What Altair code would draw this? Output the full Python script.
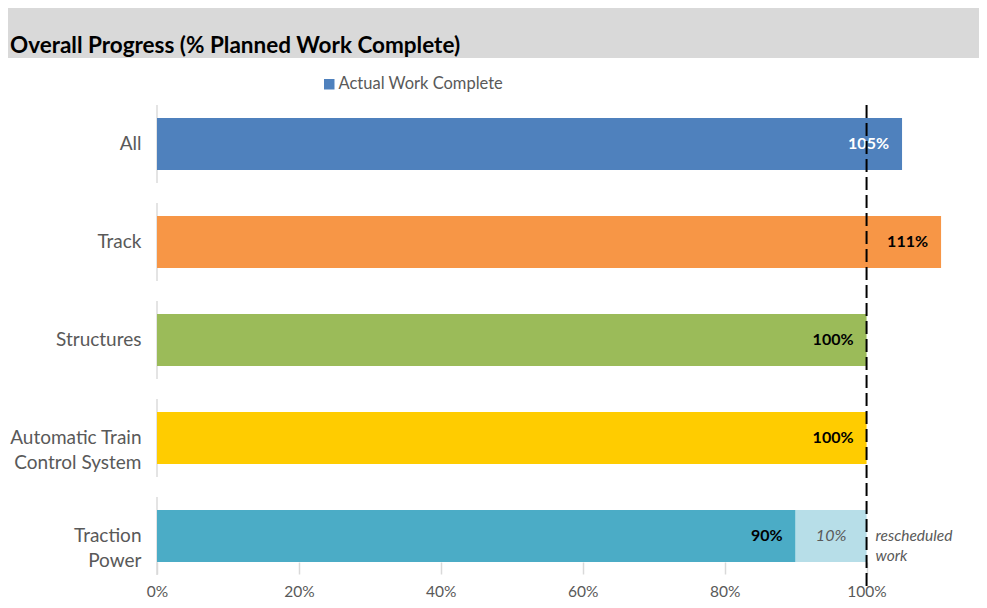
import altair as alt
import pandas as pd

# ---- data ----
categories = ["All", "Track", "Structures", "Automatic Train|Control System", "Traction|Power"]
actual = [1.05, 1.105, 1.00, 1.00, 0.90]
rescheduled = [0.0, 0.0, 0.0, 0.0, 0.10]
bar_colors = ["#4f81bd", "#f79646", "#9bbb59", "#ffcc00", "#4bacc6"]
resched_color = "#b7dee8"
value_labels = ["105%", "111%", "100%", "100%", "90%"]
label_colors = ["#ffffff", "#000000", "#000000", "#000000", "#000000"]
resched_labels = ["", "", "", "", "10%"]
x_ticks = [0, 0.2, 0.4, 0.6, 0.8, 1.0]
target = [1.0]
legend_label = "Actual Work Complete"
title_text = "Overall Progress (% Planned Work Complete)"
note_text = ["rescheduled", "work"]

FONT = "Lato"
GRAY = "#595959"

df = pd.DataFrame({
    "cat": categories,
    "actual": actual,
    "resched": rescheduled,
    "vlabel": value_labels,
    "lcolor": label_colors,
    "rlabel": resched_labels,
})
df["end"] = df["actual"] + df["resched"]
df["mid"] = df["actual"] + df["resched"] / 2

xscale = alt.Scale(domain=[0, 1.15], nice=False)
yscale = alt.Scale(paddingInner=0.469, paddingOuter=0.092, align=1)

x_axis = alt.Axis(values=x_ticks, format=".0%", title=None, domain=False, grid=False,
                  tickColor="#d9d9d9", tickSize=12, tickWidth=1.5, labelPadding=10,
                  labelFontSize=15.5, labelColor=GRAY, labelFont=FONT, labelBaseline="top",
                  labelFlush=False, labelOverlap=False)
y_axis = alt.Axis(title=None, domain=False, ticks=False, labelPadding=16, labelFontSize=19,
                  labelColor=GRAY, labelFont=FONT, labelExpr="split(datum.label, '|')",
                  labelLineHeight=25, labelLimit=300)

base = alt.Chart(df)
Y = alt.Y("cat:N", sort=categories, scale=yscale, axis=y_axis)

segments = base.mark_tick(color="#d9d9d9", thickness=2, size=78, orient="vertical").encode(
    x=alt.X("zero:Q", scale=xscale, axis=x_axis), y=Y
).transform_calculate(zero="0")

bars = base.mark_bar().encode(
    x=alt.X("actual:Q", scale=xscale, axis=x_axis),
    x2=alt.datum(0),
    y=Y,
    color=alt.Color("cat:N", sort=categories,
                    scale=alt.Scale(domain=categories, range=bar_colors),
                    legend=alt.Legend(values=["All"], labelExpr=f"'{legend_label}'", title=None,
                                      orient="none", legendX=164, legendY=-24,
                                      symbolType="square", symbolSize=110, symbolStrokeWidth=0,
                                      labelFontSize=16.5, labelColor=GRAY, labelFont=FONT,
                                      labelOffset=1, labelLimit=400)),
)

resched_bars = base.transform_filter("datum.resched > 0").mark_bar(color=resched_color).encode(
    x=alt.X("actual:Q", scale=xscale, axis=x_axis), x2="end:Q", y=Y
)

value_text = base.mark_text(align="right", dx=-13, fontWeight="bold", fontSize=16, font=FONT).encode(
    x=alt.X("actual:Q", scale=xscale, axis=x_axis), y=Y, text="vlabel:N",
    color=alt.Color("lcolor:N", scale=None),
)

resched_text = base.transform_filter("datum.resched > 0").mark_text(
    fontStyle="italic", fontSize=16, font=FONT, color=GRAY).encode(
    x=alt.X("mid:Q", scale=xscale, axis=x_axis), y=Y, text="rlabel:N"
)

note = base.transform_filter("datum.resched > 0").mark_text(
    align="left", dx=9, fontStyle="italic", fontSize=15.5, font=FONT, color=GRAY,
    lineHeight=20, text=note_text).encode(
    x=alt.X("end:Q", scale=xscale, axis=x_axis), y=Y
)

rule = alt.Chart(pd.DataFrame({"t": target})).mark_rule(
    strokeDash=[13, 5], strokeWidth=2, color="black").encode(
    x=alt.X("t:Q", scale=xscale, axis=x_axis), y=alt.value(5), y2=alt.value(490)
)

title_df = pd.DataFrame({"t": [title_text]})
title_bg = alt.Chart(title_df).mark_rect(color="#d9d9d9").encode(
    x=alt.value(-149), x2=alt.value(830), y=alt.value(-92), y2=alt.value(-42)
)
title = alt.Chart(title_df).mark_text(align="left", baseline="middle", fontSize=22.5,
                                      fontWeight="bold", font=FONT, color="black").encode(
    x=alt.value(-147), y=alt.value(-54), text="t:N"
)

chart = alt.layer(
    title_bg, title, segments, bars, resched_bars, value_text, resched_text, note, rule
).resolve_scale(color="independent").properties(
    width=816, height=462,
    autosize=alt.AutoSizeParams(type="none"),
    padding={"left": 149, "top": 92, "right": 6, "bottom": 38},
    background="white",
).configure_view(stroke=None)

chart.save("out.html", embed_options={"renderer": "svg", "actions": False})
